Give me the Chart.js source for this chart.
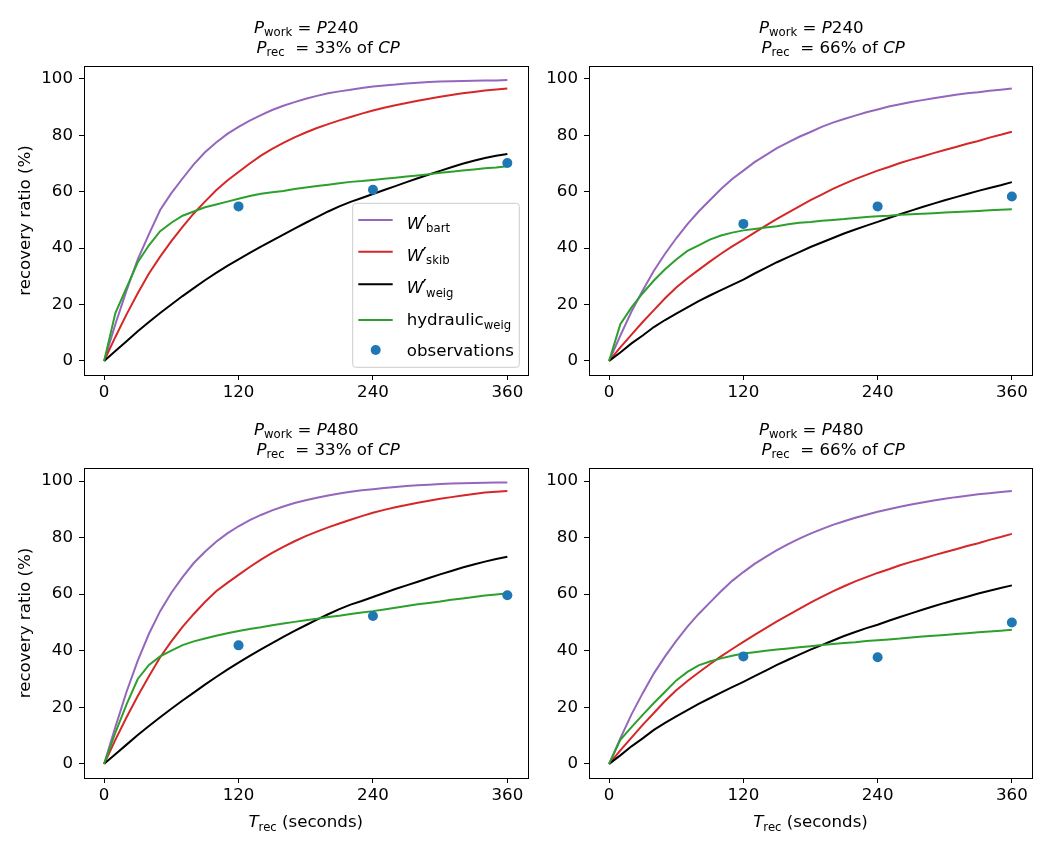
<!DOCTYPE html>
<html>
<head>
<meta charset="utf-8">
<script src="https://cdn.jsdelivr.net/npm/chart.js@4.4.1/dist/chart.umd.min.js"></script>
<style>
  body { margin: 0; background: #fff; }
  #wrap { position: relative; width: 1050px; height: 850px; background: #fff; }
  #wrap canvas { position: absolute; }
</style>
</head>
<body>
<div id="wrap">
  <canvas id="tl" width="545" height="420" style="left:0;top:0"></canvas>
  <canvas id="tr" width="505" height="420" style="left:545px;top:0"></canvas>
  <canvas id="bl" width="545" height="430" style="left:0;top:420px"></canvas>
  <canvas id="br" width="505" height="430" style="left:545px;top:420px"></canvas>
</div>
<script>
// recovery time (s) for the model curves, and for the observations
const T = [0,10,20,30,40,50,60,70,80,90,100,110,120,130,140,150,160,170,180,190,200,210,220,230,240,250,260,270,280,290,300,310,320,330,340,350,360];
const obsT = [120, 240, 360];
const xTicks = [0, 120, 240, 360];
const yTicks = [0, 20, 40, 60, 80, 100];

// P_work = P240, P_rec = 33% of CP
const bartTL = [0,13,25,36,45,53.5,59.5,64.7,69.7,74,77.5,80.5,83,85.2,87.2,89,90.5,91.8,93,94,94.9,95.6,96.2,96.8,97.3,97.7,98,98.4,98.7,98.9,99.1,99.2,99.3,99.4,99.5,99.5,99.6];
const skibTL = [0,8.5,16.5,24,31,37,42.5,47.5,52.3,56.5,60.5,64,67,70,72.8,75.2,77.3,79.3,81,82.6,84,85.3,86.5,87.7,88.8,89.8,90.7,91.5,92.3,93,93.7,94.3,94.9,95.4,95.9,96.3,96.6];
const weigTL = [0,3.5,7,10.5,13.8,17,20,23,25.8,28.6,31.2,33.7,36,38.3,40.5,42.7,44.8,46.9,49,51,53,54.8,56.4,57.8,59.2,60.6,62,63.4,64.8,66.1,67.4,68.7,69.9,71,72,72.8,73.4];
const hydTL = [0,17,26,35,41,46,49,51.5,53,54.5,55.5,56.5,57.5,58.5,59.3,59.8,60.3,61,61.5,62,62.5,63,63.5,63.8,64.2,64.6,65,65.4,65.8,66.2,66.7,67.1,67.5,67.9,68.3,68.6,69];
const obsTL = [54.8, 60.7, 70.2];

// P_work = P240, P_rec = 66% of CP
const bartTR = [0,9,17.5,25,32,38,43.5,48.5,53,57,61,64.5,67.5,70.5,73,75.5,77.5,79.5,81.2,83,84.5,85.8,87,88.2,89.2,90.2,91,91.8,92.5,93.2,93.8,94.4,94.9,95.3,95.8,96.2,96.6];
const skibTR = [0,4.8,9.3,13.8,18,22.2,26,29.3,32.3,35.2,38,40.6,43,45.5,48,50.4,52.6,54.8,57,59,61,62.8,64.5,66,67.5,68.8,70.2,71.4,72.5,73.7,74.8,75.9,77,78,79.2,80.2,81.3];
const weigTR = [0,3,6.2,9,12,14.5,16.8,19,21.2,23.2,25.1,27,28.8,31,33,35,36.8,38.6,40.4,42,43.6,45.2,46.6,48,49.3,50.7,52,53.3,54.6,55.8,57,58.1,59.2,60.3,61.3,62.3,63.4];
const hydTR = [0,13,19,24,28.5,32.5,36,39,41,43,44.5,45.5,46.3,46.8,47.3,47.8,48.5,49,49.3,49.7,50,50.3,50.7,51,51.3,51.5,51.8,52,52.2,52.4,52.6,52.8,53,53.2,53.4,53.6,53.8];
const obsTR = [48.6, 54.8, 58.3];

// P_work = P480, P_rec = 33% of CP
const bartBL = [0,13,25.5,36.5,46,54,60.5,66,71,75,78.5,81.5,84,86.2,88,89.6,91,92.2,93.2,94.1,94.9,95.6,96.2,96.7,97.1,97.5,97.9,98.2,98.5,98.7,98.9,99.1,99.2,99.3,99.4,99.5,99.5];
const skibBL = [0,8.5,16.5,24,31,37.7,43.3,48.4,53,57.2,61,64,66.8,69.6,72.2,74.6,76.7,78.7,80.5,82.1,83.6,85,86.3,87.6,88.8,89.8,90.7,91.5,92.3,93,93.7,94.3,94.9,95.4,95.9,96.2,96.5];
const weigBL = [0,3.4,6.8,10.2,13.4,16.5,19.5,22.4,25.2,28,30.7,33.3,35.8,38.2,40.5,42.7,44.9,47,49,51,52.9,54.7,56.3,57.6,59,60.4,61.8,63.1,64.4,65.7,67,68.2,69.4,70.5,71.5,72.4,73.2];
const hydBL = [0,11,21,30,35,38,40,42,43.3,44.3,45.3,46.2,47,47.7,48.3,49,49.6,50.2,50.8,51.3,51.9,52.4,53,53.5,54,54.6,55.2,55.8,56.4,56.9,57.4,58,58.5,59,59.5,59.9,60.3];
const obsBL = [41.9, 52.3, 59.6];

// P_work = P480, P_rec = 66% of CP
const bartBR = [0,9,17.5,25,32,38,43.5,48.5,53,57,61,64.7,67.8,70.7,73.2,75.6,77.7,79.6,81.4,83,84.5,85.8,87,88.1,89.1,90,90.9,91.7,92.4,93.1,93.7,94.3,94.8,95.3,95.7,96.1,96.5];
const skibBR = [0,4.8,9.3,13.8,18,22.2,26,29.3,32.3,35.2,38,40.6,43.1,45.6,48,50.4,52.6,54.8,57,59,61,62.8,64.5,66,67.5,68.8,70.2,71.4,72.5,73.7,74.8,75.9,77,78,79.2,80.2,81.3];
const weigBR = [0,3,6.2,9,12,14.5,16.8,19,21.2,23.2,25.2,27.1,29,31,33,35,36.8,38.6,40.4,42,43.6,45.2,46.6,48,49.2,50.6,51.9,53.2,54.5,55.7,56.9,58,59.1,60.2,61.2,62.2,63.1];
const hydBR = [0,8.5,13,17.3,21.5,25.5,29.5,32.5,34.8,36.2,37.3,38.2,39,39.5,40,40.4,40.8,41.2,41.6,42,42.4,42.7,43,43.4,43.7,44,44.3,44.7,45,45.3,45.6,45.9,46.2,46.5,46.8,47.1,47.4];
const obsBR = [38, 37.7, 50];

const purple = '#9467bd', red = '#d62728', black = '#000000', green = '#2ca02c', blue = '#1f77b4';
const FONT = '"DejaVu Sans", "Liberation Sans", sans-serif';
const FS = 16.67;

// rich text: [{t, i (italic), sub, pr (prime)}]
function segFont(s, size) {
    let fs = size;
    if (s.sub) fs = size * 0.7;
    if (s.pr) fs = size * 1.3;
    return (s.i ? 'italic ' : '') + fs + 'px ' + FONT;
}
function richWidth(ctx, segs, size) {
    let w = 0;
    segs.forEach(s => {
        ctx.font = segFont(s, size);
        w += ctx.measureText(s.t).width;
    });
    return w;
}
function drawRich(ctx, segs, x, y, size) {
    let cx = x;
    ctx.textAlign = 'left';
    ctx.textBaseline = 'alphabetic';
    ctx.fillStyle = '#000';
    segs.forEach(s => {
        ctx.font = segFont(s, size);
        let dy = 0;
        if (s.sub) dy = size * 0.22;
        if (s.pr) dy = size * 0.12;
        const w = ctx.measureText(s.t).width;
        ctx.fillText(s.t, cx - (s.pr ? w * 0.25 : 0), y + dy);
        cx += s.pr ? w * 0.6 : w;
    });
}

const labelBart = [{t: 'W', i: true}, {t: '\u2032', pr: true}, {t: 'bart', sub: true}];
const labelSkib = [{t: 'W', i: true}, {t: '\u2032', pr: true}, {t: 'skib', sub: true}];
const labelWeig = [{t: 'W', i: true}, {t: '\u2032', pr: true}, {t: 'weig', sub: true}];
const labelHyd = [{t: 'hydraulic'}, {t: 'weig', sub: true}];
const labelObs = [{t: 'observations'}];

const pts = (xs, ys) => xs.map((x, i) => ({x: x, y: ys[i]}));

function lineSet(vals, color, order) {
    return {data: pts(T, vals), borderColor: color, backgroundColor: color, borderWidth: 2,
            showLine: true, pointRadius: 0, tension: 0, order: order};
}

// draws frame, titles, axis labels and legend
const decor = {
    id: 'decor',
    afterDatasetsDraw(chart, args, o) {
        const ctx = chart.ctx, a = chart.chartArea;
        ctx.save();
        ctx.strokeStyle = '#000';
        ctx.lineWidth = 1;
        ctx.strokeRect(Math.round(a.left) + 0.5, Math.round(a.top) + 0.5,
                       Math.round(a.right - a.left), Math.round(a.bottom - a.top));

        // titles
        drawRich(ctx, [{t: 'P', i: true}, {t: 'work', sub: true}, {t: ' = '}, {t: 'P', i: true}, {t: o.work}],
                 a.left + 170, a.top - 33.3, FS);
        drawRich(ctx, [{t: 'P', i: true}, {t: 'rec', sub: true}, {t: '  = ' + o.rec + ' of '}, {t: 'CP', i: true}],
                 a.left + 172.5, a.top - 13.3, FS);

        if (o.ylabel) {
            ctx.save();
            ctx.translate(26, (a.top + a.bottom) / 2);
            ctx.rotate(-Math.PI / 2);
            ctx.font = FS + 'px ' + FONT;
            ctx.textAlign = 'center';
            ctx.textBaseline = 'middle';
            ctx.fillStyle = '#000';
            ctx.fillText('recovery ratio (%)', 0, 0);
            ctx.restore();
        }
        if (o.xlabel) {
            const segs = [{t: 'T', i: true}, {t: 'rec', sub: true}, {t: ' (seconds)'}];
            const w = richWidth(ctx, segs, FS);
            drawRich(ctx, segs, (a.left + a.right) / 2 - w / 2, a.bottom + 49, FS);
        }
        if (o.legend) {
            const lx = a.right - 174.8, ly = a.bottom - 171.7, lw = 166.6, lh = 164;
            ctx.beginPath();
            ctx.roundRect(lx, ly, lw, lh, 3);
            ctx.fillStyle = 'rgba(255,255,255,0.8)';
            ctx.fill();
            ctx.strokeStyle = '#cccccc';
            ctx.lineWidth = 1;
            ctx.stroke();
            const rows = [
                {segs: labelBart, color: purple, dy: 16.7, tb: 8.5},
                {segs: labelSkib, color: red, dy: 48.4, tb: 8.8},
                {segs: labelWeig, color: black, dy: 81, tb: 8.6},
                {segs: labelHyd, color: green, dy: 116.7, tb: 5.3},
                {segs: labelObs, color: blue, dy: 146.7, tb: 5.5, dot: true}
            ];
            rows.forEach(r => {
                const y = ly + r.dy;
                if (r.dot) {
                    ctx.beginPath();
                    ctx.arc(lx + 23, y, 5, 0, Math.PI * 2);
                    ctx.fillStyle = r.color;
                    ctx.fill();
                } else {
                    ctx.beginPath();
                    ctx.moveTo(lx + 5.6, y);
                    ctx.lineTo(lx + 40, y);
                    ctx.strokeStyle = r.color;
                    ctx.lineWidth = 2;
                    ctx.stroke();
                }
                drawRich(ctx, r.segs, lx + 54, y + r.tb, FS);
            });
        }
        ctx.restore();
    }
};

const panels = [
    {id: 'tl', bart: bartTL, skib: skibTL, weig: weigTL, hyd: hydTL, obs: obsTL, work: '240', rec: '33%',
     padTop: 66, padRight: 17.5, yW: 84, xH: 45, ylabel: true, xlabel: false, legend: true},
    {id: 'tr', bart: bartTR, skib: skibTR, weig: weigTR, hyd: hydTR, obs: obsTR, work: '240', rec: '66%',
     padTop: 66, padRight: 18, yW: 44, xH: 45, ylabel: false, xlabel: false, legend: false},
    {id: 'bl', bart: bartBL, skib: skibBL, weig: weigBL, hyd: hydBL, obs: obsBL, work: '480', rec: '33%',
     padTop: 48, padRight: 17.5, yW: 84, xH: 72, ylabel: true, xlabel: true, legend: false},
    {id: 'br', bart: bartBR, skib: skibBR, weig: weigBR, hyd: hydBR, obs: obsBR, work: '480', rec: '66%',
     padTop: 48, padRight: 18, yW: 44, xH: 72, ylabel: false, xlabel: true, legend: false}
];

panels.forEach(p => {
    const ctx = document.getElementById(p.id).getContext('2d');
    new Chart(ctx, {
        type: 'scatter',
        data: {
            datasets: [
                {data: pts(obsT, p.obs), backgroundColor: blue, borderColor: blue, pointRadius: 5,
                 borderWidth: 0, showLine: false, order: 0},
                lineSet(p.hyd, green, 1),
                lineSet(p.weig, black, 2),
                lineSet(p.skib, red, 3),
                lineSet(p.bart, purple, 4)
            ]
        },
        options: {
            responsive: false,
            animation: false,
            devicePixelRatio: 1,
            layout: {padding: {top: p.padTop, right: p.padRight, left: 0, bottom: 0}},
            plugins: {
                legend: {display: false},
                tooltip: {enabled: false},
                decor: {work: p.work, rec: p.rec, ylabel: p.ylabel, xlabel: p.xlabel, legend: p.legend}
            },
            scales: {
                x: {
                    type: 'linear', min: -18, max: 378,
                    afterBuildTicks: s => { s.ticks = xTicks.map(v => ({value: v})); },
                    afterFit: s => { s.height = p.xH; },
                    ticks: {color: '#000', font: {family: FONT, size: FS}, padding: 3, maxRotation: 0, autoSkip: false},
                    grid: {drawOnChartArea: false, tickLength: 5, tickColor: '#000', tickWidth: 1},
                    border: {display: false}
                },
                y: {
                    type: 'linear', min: -5, max: 104.6,
                    afterBuildTicks: s => { s.ticks = yTicks.map(v => ({value: v})); },
                    afterFit: s => { s.width = p.yW; },
                    ticks: {color: '#000', font: {family: FONT, size: FS}, padding: 6, autoSkip: false},
                    grid: {drawOnChartArea: false, tickLength: 5, tickColor: '#000', tickWidth: 1},
                    border: {display: false}
                }
            }
        },
        plugins: [decor]
    });
});
</script>
</body>
</html>
